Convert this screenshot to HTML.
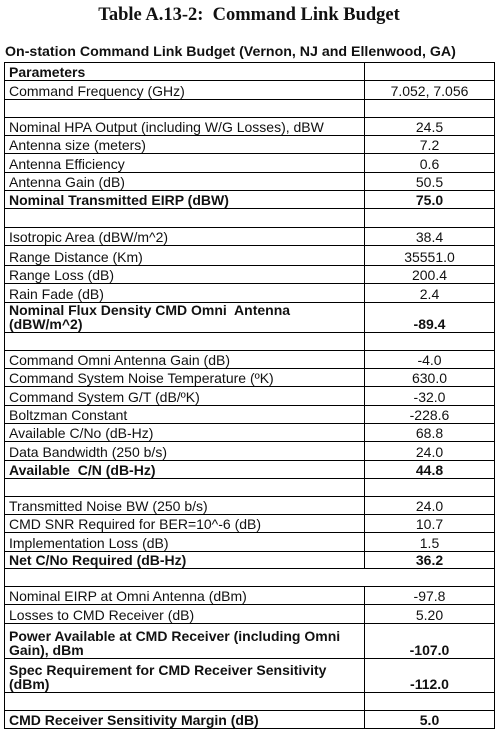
<!DOCTYPE html>
<html><head><meta charset="utf-8">
<style>
html,body{margin:0;padding:0;background:#fff;width:498px;height:730px;overflow:hidden;position:relative}
.title{position:absolute;left:0;width:498px;top:5px;text-align:center;font:bold 18.5px "Liberation Serif",serif;color:#111}
.sub{position:absolute;left:5px;top:44px;font:bold 14.2px "Liberation Sans",sans-serif;color:#111;white-space:nowrap}
table{position:absolute;left:4px;top:62px;width:491px;border-collapse:collapse;table-layout:fixed;font:14px "Liberation Sans",sans-serif;color:#111}
td{border:1px solid #000;padding:0 4px;line-height:14px;overflow:hidden;white-space:nowrap}
td.v{text-align:center;vertical-align:bottom;padding-bottom:1px}
td.l{vertical-align:bottom;padding-bottom:1px}
tr.b td{font-weight:bold}
tr.nd td.l{border-right:none}
tr.nd td.v{border-left:none}
</style></head><body>
<div class="title">Table A.13-2:&nbsp; Command Link Budget</div>
<div class="sub">On-station Command Link Budget (Vernon, NJ and Ellenwood, GA)</div>
<table>
<colgroup><col style="width:360px"><col></colgroup>
<tbody id="tb"></tbody>
</table>
<script>
const labels=["Parameters","Command Frequency (GHz)","","Nominal HPA Output (including W/G Losses), dBW","Antenna size (meters)","Antenna Efficiency","Antenna Gain (dB)","Nominal Transmitted EIRP (dBW)","","Isotropic Area (dBW/m^2)","Range Distance (Km)","Range Loss (dB)","Rain Fade (dB)","Nominal Flux Density CMD Omni&nbsp; Antenna<br>(dBW/m^2)","","Command Omni Antenna Gain (dB)","Command System Noise Temperature (ºK)","Command System G/T (dB/ºK)","Boltzman Constant","Available C/No (dB-Hz)","Data Bandwidth (250 b/s)","Available&nbsp; C/N (dB-Hz)","","Transmitted Noise BW (250 b/s)","CMD SNR Required for BER=10^-6 (dB)","Implementation Loss (dB)","Net C/No Required (dB-Hz)","","Nominal EIRP at Omni Antenna (dBm)","Losses to CMD Receiver (dB)","Power Available at CMD Receiver (including Omni<br>Gain), dBm","Spec Requirement for CMD Receiver Sensitivity<br>(dBm)","","CMD Receiver Sensitivity Margin (dB)"];
const values=["","7.052, 7.056","","24.5","7.2","0.6","50.5","75.0","","38.4","35551.0","200.4","2.4","-89.4","","-4.0","630.0","-32.0","-228.6","68.8","24.0","44.8","","24.0","10.7","1.5","36.2","","-97.8","5.20","-107.0","-112.0","","5.0"];
const boldRows=[0,7,13,21,26,30,31,33];
const bounds=[62,80,99,117,135,153,172,190,208,227,245,265,283,302,332,350,368,386,405,423,441,460,478,496,514,532,551,568,586,604,623,658,692,710,728];
const tb=document.getElementById('tb');
labels.forEach((lab,i)=>{
  const tr=document.createElement('tr');
  
  
  let h=bounds[i+1]-bounds[i];
  tr.style.height=(h)+'px';
  if(boldRows.includes(i)) tr.className='b';
  if(i===27) tr.className+=' nd';
  const a=document.createElement('td');
  a.className='l';
  
  
  a.innerHTML=lab;
  const b=document.createElement('td');
  b.className='v';
  
  
  b.textContent=values[i];
  tr.appendChild(a);tr.appendChild(b);tb.appendChild(tr);
});
</script>
</body></html>
